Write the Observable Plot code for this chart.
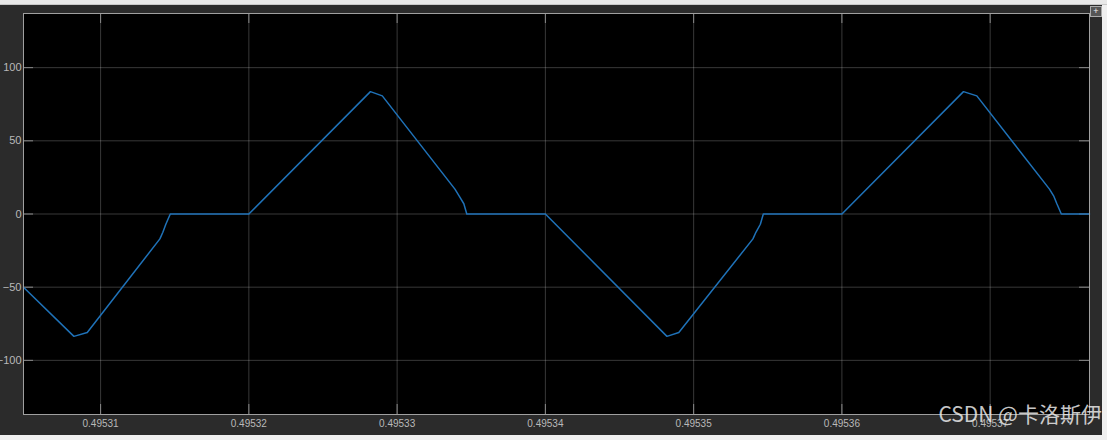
<!DOCTYPE html>
<html>
<head>
<meta charset="utf-8">
<script src="https://cdn.jsdelivr.net/npm/d3@7"></script>
<script src="https://cdn.jsdelivr.net/npm/@observablehq/plot@0.6"></script>
<style>
  html, body { margin: 0; padding: 0; background: #f0f0f0; }
  #wrap { position: relative; width: 1107px; height: 440px; overflow: hidden; background: #f0f0f0; font-family: "Liberation Sans", Arial, sans-serif; }
  #topbar { position: absolute; left: 0; top: 0; width: 1107px; height: 4px; background: #e8e8e8; border-bottom: 1px solid #c8c8c8; }
  #panel { position: absolute; left: 0; top: 5px; width: 1102px; height: 430px; background: #2b2b2b; }
  #chart { position: absolute; left: 0; top: 0; }
  #btn { position: absolute; left: 1090px; top: 6px; width: 10px; height: 9px; border: 1px solid #aaa; background: #555; color: #eee; font-size: 9px; line-height: 9px; text-align: center; }
  #wm { position: absolute; right: 5px; top: 398px; font-family: "Noto Sans CJK SC", "Liberation Sans", sans-serif; font-size: 21px; color: rgba(235,235,235,0.85); white-space: nowrap; }
</style>
</head>
<body>
<div id="wrap">
  <div id="topbar"></div>
  <div id="panel"></div>
  <div id="chart"></div>
  <div id="btn">+</div>
  <div id="wm">CSDN @卡洛斯伊</div>
</div>
<script>
// Sample times (s) and signal values
const times = [
  0.4953048, 0.4953082, 0.4953091, 0.4953140, 0.4953142, 0.4953144, 0.4953147,
  0.4953200, 0.4953282, 0.4953290, 0.4953339, 0.4953342, 0.4953345, 0.4953347,
  0.4953400, 0.4953482, 0.4953490, 0.4953540, 0.4953542, 0.4953545, 0.4953547,
  0.4953600, 0.4953682, 0.4953691, 0.4953740, 0.4953743, 0.4953745, 0.4953748,
  0.4953767
];
const values = [
  -50, -83.6, -81, -17, -12.5, -7, 0,
  0, 83.6, 80.7, 17, 12, 7, 0,
  0, -83.6, -81, -17, -12.5, -7, 0,
  0, 83.6, 80.7, 17, 12, 7, 0,
  0
];
const xTicks = [0.49531, 0.49532, 0.49533, 0.49534, 0.49535, 0.49536, 0.49537];
const yTicks = [-100, -50, 0, 50, 100];
const xDomain = [0.4953048, 0.4953767];
const yDomain = [-137, 137];

const data = times.map((t, i) => ({t, v: values[i]}));

const tickLenX = (xDomain[1] - xDomain[0]) / 1066 * 10;
const tickLenY = (yDomain[1] - yDomain[0]) / 401 * 10;

const chart = Plot.plot({
  width: 1107,
  height: 440,
  marginLeft: 23,
  marginRight: 18,
  marginTop: 13,
  marginBottom: 26,
  style: {background: "transparent", color: "#b9b9b9", fontFamily: "Liberation Sans, Arial, sans-serif", fontSize: "11px"},
  x: {domain: xDomain, ticks: xTicks, tickFormat: d3.format(".5f")},
  y: {domain: yDomain, ticks: yTicks},
  marks: [
    Plot.frame({fill: "#000", stroke: "none"}),
    Plot.gridX(xTicks, {stroke: "#ffffff", strokeOpacity: 0.22, strokeWidth: 1}),
    Plot.gridY(yTicks, {stroke: "#ffffff", strokeOpacity: 0.22, strokeWidth: 1}),
    // inner ticks on all four sides
    Plot.ruleY(yTicks, {x1: xDomain[0], x2: xDomain[0] + tickLenX, stroke: "#8a8a8a"}),
    Plot.ruleY(yTicks, {x1: xDomain[1] - tickLenX, x2: xDomain[1], stroke: "#8a8a8a"}),
    Plot.ruleX(xTicks, {y1: yDomain[0], y2: yDomain[0] + tickLenY, stroke: "#8a8a8a"}),
    Plot.ruleX(xTicks, {y1: yDomain[1] - tickLenY, y2: yDomain[1], stroke: "#8a8a8a"}),
    Plot.line(data, {x: "t", y: "v", stroke: "#1f72b8", strokeWidth: 1.5}),
    Plot.frame({stroke: "#a0a0a0", strokeWidth: 1}),
    Plot.axisX(xTicks, {tickSize: 0, tickPadding: 5, label: null, fontSize: 10, tickFormat: d3.format(".5f")}),
    Plot.axisY(yTicks, {tickSize: 0, tickPadding: 2, label: null, fontSize: 11})
  ]
});
document.getElementById("chart").appendChild(chart);
</script>
</body>
</html>
